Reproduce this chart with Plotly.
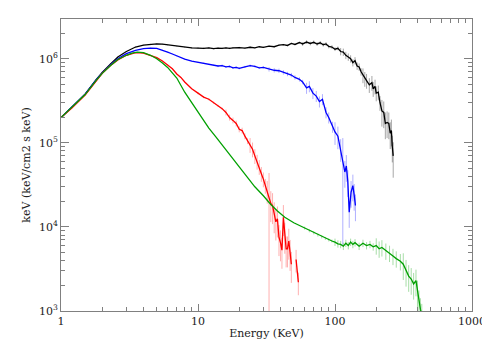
import plotly.graph_objects as go

# ---------------- data ----------------
E_black = [1.0,1.2,1.5,1.8,2.0,2.3,2.6,3.0,3.5,4.0,4.5,5.0,5.5,6.0,6.5,7.0,7.5,8.0,9.0,10,11,12,13,14,15,16,17,18,20,22,24,26,28,30,33,36,39,42,45,48,51,55,58,62,66,70,74,78,82,86,90,95,100,105,110,115,120,125,130,135,140,145,150,155,160,165,170,178,186,190,196,200,207,213,220,227,233,240,247,253,258,262,266]
F_black = [2.0e5,2.65e5,3.8e5,5.6e5,6.9e5,8.7e5,1.05e6,1.22e6,1.38e6,1.45e6,1.49e6,1.5e6,1.49e6,1.46e6,1.44e6,1.41e6,1.39e6,1.37e6,1.35e6,1.34e6,1.33e6,1.35e6,1.32e6,1.34e6,1.33e6,1.35e6,1.33e6,1.35e6,1.36e6,1.34e6,1.37e6,1.35e6,1.39e6,1.37e6,1.41e6,1.39e6,1.45e6,1.47e6,1.44e6,1.52e6,1.48e6,1.56e6,1.50e6,1.58e6,1.52e6,1.57e6,1.50e6,1.55e6,1.47e6,1.50e6,1.40e6,1.38e6,1.30e6,1.33e6,1.22e6,1.20e6,1.10e6,1.05e6,1.0e6,9.0e5,9.5e5,8.2e5,8.0e5,7.0e5,6.4e5,5.8e5,5.5e5,4.9e5,5.2e5,4.4e5,4.7e5,3.9e5,4.0e5,3.0e5,2.4e5,2.3e5,1.7e5,1.75e5,1.7e5,1.3e5,1.4e5,9.0e4,7.0e4]
R_black = [0.01]*18 + [0.02]*24 + [0.05]*12 + [0.1]*10 + [0.2]*10 + [0.35]*8 + [0.45]

E_blue = [1.0,1.2,1.5,1.8,2.0,2.3,2.6,3.0,3.5,4.0,4.5,5.0,5.5,6.0,6.5,7.0,7.5,8.0,9.0,10,11,12,13,14,15,16,17,18,19,20,22,24,26,28,30,33,36,39,42,45,48,51,55,58,62,65,69,73,77,81,86,90,96,100,105,110,114,118,121,124,127,131,135,138,141]
F_blue = [2.0e5,2.65e5,3.8e5,5.55e5,6.8e5,8.5e5,1.0e6,1.15e6,1.26e6,1.32e6,1.34e6,1.33e6,1.27e6,1.2e6,1.14e6,1.08e6,1.03e6,9.9e5,9.4e5,9.1e5,8.9e5,8.6e5,8.4e5,8.2e5,8.3e5,8.0e5,8.1e5,7.8e5,7.9e5,7.7e5,8.0e5,8.3e5,8.1e5,7.8e5,7.9e5,7.5e5,7.3e5,7.2e5,6.9e5,6.6e5,6.4e5,6.0e5,5.7e5,5.3e5,4.5e5,4.7e5,3.9e5,3.6e5,3.1e5,3.3e5,2.3e5,2.0e5,1.55e5,1.35e5,1.2e5,8.5e4,6.0e4,4.5e4,5.3e4,3.5e4,1.5e4,2.6e4,3.1e4,2.4e4,1.8e4]
R_blue = [0.01]*23 + [0.03]*12 + [0.06]*9 + [0.15]*9 + [0.3]*3 + [0.9] + [0.35]*8

E_red = [1.0,1.2,1.5,1.8,2.0,2.3,2.6,3.0,3.5,4.0,4.5,5.0,5.5,6.0,6.5,7.0,7.5,8.0,9.0,10,11,12,13,14,15,16,17,18,19,20,21,22,23,24,25,26,27,28,29,30,31,32,33,34,35,36,37,38,39,40,41,42,43,44,45,46,47,48,50,52,54]
F_red = [2.0e5,2.6e5,3.7e5,5.45e5,6.7e5,8.3e5,9.7e5,1.1e6,1.18e6,1.17e6,1.1e6,1.03e6,9.4e5,8.5e5,7.6e5,6.6e5,6.0e5,5.3e5,4.4e5,3.9e5,3.5e5,3.3e5,3.0e5,2.75e5,2.55e5,2.3e5,2.0e5,1.85e5,1.7e5,1.45e5,1.4e5,1.2e5,1.05e5,9.5e4,8.4e4,7.0e4,6.0e4,5.2e4,4.3e4,3.7e4,3.1e4,2.7e4,2.2e4,1.9e4,1.8e4,1.4e4,1.15e4,1.25e4,7.5e3,6.5e3,5.3e3,1.3e4,8.0e3,5.5e3,5.5e3,6.8e3,5.0e3,3.6e3,None,4.1e3,2.2e3]
R_red = [0.01]*19 + [0.03]*6 + [0.08]*8 + [0.2]*8 + [0.3,0.99] + [0.4]*15 + [0.3]*3

E_green = [1.0,1.2,1.5,1.8,2.0,2.3,2.6,3.0,3.3,3.6,4.0,4.5,5.0,5.5,6.0,7.0,8.0,9.0,10,11,12,13.5,15,17,20,23,26,30,34,38,43,50,55,60,65,70,75,80,85,90,95,100,105,110,115,120,125,130,135,140,150,160,170,180,190,200,210,220,235,250,265,280,300,315,330,345,360,375,390,400,410,420,430]
F_green = [2.0e5,2.65e5,3.75e5,5.5e5,6.7e5,8.3e5,9.8e5,1.1e6,1.17e6,1.2e6,1.18e6,1.1e6,1.0e6,8.9e5,7.9e5,5.9e5,4.0e5,3.0e5,2.3e5,1.85e5,1.5e5,1.18e5,9.5e4,7.2e4,5.1e4,3.9e4,3.0e4,2.35e4,1.85e4,1.55e4,1.3e4,1.12e4,1.04e4,9.7e3,9.0e3,8.5e3,8.0e3,7.6e3,7.3e3,7.0e3,6.8e3,6.6e3,6.3e3,6.2e3,5.9e3,6.4e3,6.0e3,6.6e3,6.2e3,6.5e3,5.9e3,6.4e3,6.0e3,6.2e3,5.8e3,6.0e3,5.5e3,5.7e3,5.2e3,4.9e3,4.5e3,4.2e3,3.9e3,3.6e3,3.0e3,2.6e3,2.4e3,2.1e3,2.3e3,1.7e3,1.3e3,1.05e3,9.0e2]
R_green = [0.0]*33 + [0.04]*8 + [0.1]*14 + [0.22]*8 + [0.35]*10

x_ticks = [1, 10, 100, 1000]
x_labels = ["1", "10", "100", "1000"]
y_ticks = [1e3, 1e4, 1e5, 1e6]
y_labels = ["10<sup>3</sup>", "10<sup>4</sup>", "10<sup>5</sup>", "10<sup>6</sup>"]

series = [
    ("black", E_black, F_black, R_black, "#000000", "rgba(0,0,0,0.35)"),
    ("blue", E_blue, F_blue, R_blue, "#0000ff", "rgba(80,80,255,0.45)"),
    ("red", E_red, F_red, R_red, "#ff0000", "rgba(255,80,80,0.45)"),
    ("green", E_green, F_green, R_green, "#00a000", "rgba(60,180,60,0.45)"),
]

fig = go.Figure()
for name, E, F, R, col, ecol in series:
    up = [None if f is None else f * r for f, r in zip(F, R)]
    dn = [None if f is None else f * min(r, 0.995) for f, r in zip(F, R)]
    fig.add_trace(go.Scatter(
        x=E, y=F, mode="lines", name=name, connectgaps=False,
        line=dict(color=col, width=1.3),
        error_y=dict(type="data", array=up, arrayminus=dn, symmetric=False,
                     color=ecol, thickness=1, width=0),
        showlegend=False,
    ))

minor_x = [m * 10 ** d for d in range(0, 3) for m in range(2, 10)]
minor_y = [m * 10 ** d for d in range(3, 7) for m in range(2, 10)]
axcol = "#808080"
font = dict(family="DejaVu Serif", size=11, color="#222")

# the page body adds an 8 px offset; margins compensate for it
fig.update_layout(
    width=490, height=350,
    margin=dict(l=53, r=26, t=11, b=47),
    paper_bgcolor="white", plot_bgcolor="white",
    font=font,
    xaxis=dict(
        type="log", range=[0, 3], tickvals=x_ticks, ticktext=x_labels,
        ticks="inside", ticklen=7, tickcolor=axcol, tickwidth=1,
        showline=True, linecolor=axcol, linewidth=1, mirror="ticks",
        showgrid=False, zeroline=False, automargin=False,
        minor=dict(tickvals=minor_x, ticks="inside", ticklen=4, tickcolor=axcol, showgrid=False),
        title=dict(text="Energy (KeV)", standoff=2, font=font),
    ),
    yaxis=dict(
        type="log", range=[3, 6.473], tickvals=y_ticks, ticktext=y_labels,
        ticks="inside", ticklen=8, tickcolor=axcol, tickwidth=1,
        showline=True, linecolor=axcol, linewidth=1, mirror="ticks",
        showgrid=False, zeroline=False, automargin=False,
        minor=dict(tickvals=minor_y, ticks="inside", ticklen=4, tickcolor=axcol, showgrid=False),
        title=dict(text="keV (keV/cm2 s keV)", standoff=6, font=font),
    ),
)

fig.write_html("out.html")
